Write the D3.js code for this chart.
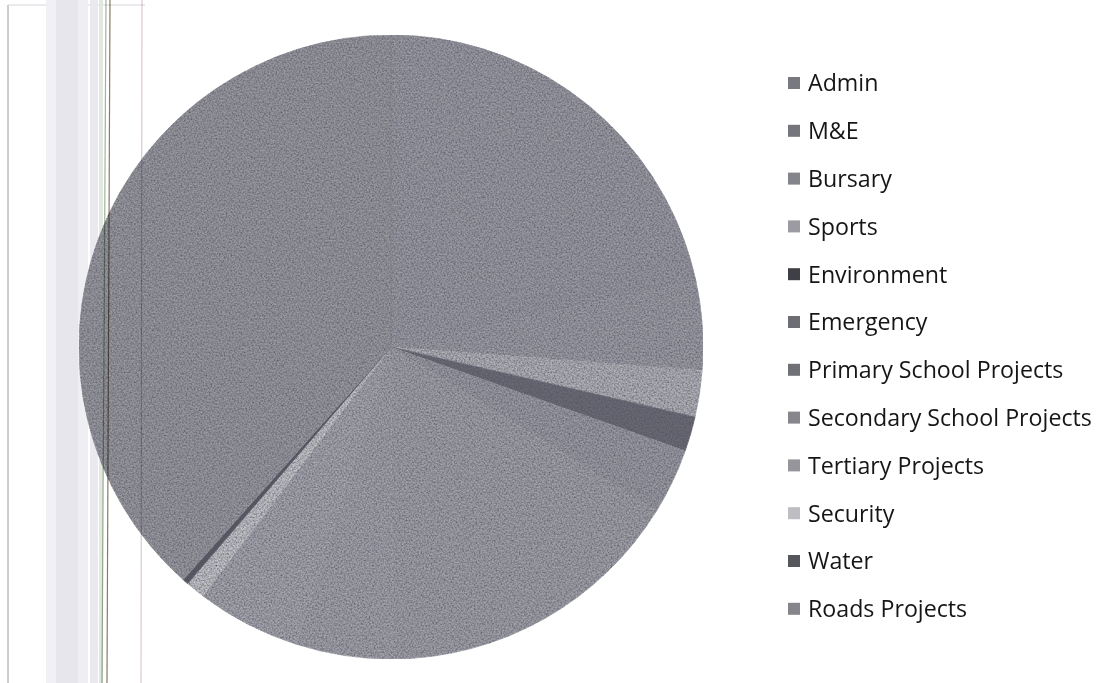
<!DOCTYPE html>
<html>
<head>
<meta charset="utf-8">
<script src="https://cdn.jsdelivr.net/npm/d3@7/dist/d3.min.js"></script>
<style>
  html, body { margin: 0; padding: 0; background: #ffffff; }
  svg { display: block; }
</style>
</head>
<body>
<svg id="chart" width="1114" height="683"></svg>
<script>
// Budget allocation by category (percent of total)
const categories = [
  "Admin", "M&E", "Bursary", "Sports", "Environment", "Emergency",
  "Primary School Projects", "Secondary School Projects", "Tertiary Projects",
  "Security", "Water", "Roads Projects"
];
const shares = [19.4, 2.2, 4.6, 2.4, 1.8, 3.4, 16.1, 5.0, 5.4, 1.0, 0.3, 38.4];

// Slice and legend swatch tones (greyscale print)
const sliceColors = [
  "#9a9aa3", "#9999a2", "#9b9ba4", "#b1b1b8", "#6a6a74", "#9a9aa3",
  "#a0a0a8", "#a2a2aa", "#a5a5ad", "#c2c2c8", "#5a5a63", "#98989f"
];
const swatchColors = [
  "#78787f", "#75757c", "#84848b", "#9b9ba1", "#3f3f46", "#6d6d74",
  "#707077", "#86868c", "#95959b", "#bdbdc2", "#56565d", "#85858b"
];

const svg = d3.select("#chart");
const W = 1114, H = 683;

// speckled print texture
const defs = svg.append("defs");
const f = defs.append("filter").attr("id", "grain").attr("x", 0).attr("y", 0).attr("width", 1).attr("height", 1);
f.append("feTurbulence").attr("type", "fractalNoise").attr("baseFrequency", 0.6).attr("numOctaves", 2).attr("seed", 7).attr("result", "noise");
f.append("feColorMatrix").attr("in", "noise").attr("type", "matrix")
  .attr("values", "0 0 0 0 0.08  0 0 0 0 0.08  0 0 0 0 0.12  1.5 0 0 0 -0.45").attr("result", "dots");
f.append("feComposite").attr("in", "dots").attr("in2", "SourceGraphic").attr("operator", "in").attr("result", "dotsIn");
f.append("feMerge").selectAll("feMergeNode").data(["SourceGraphic", "dotsIn"]).join("feMergeNode").attr("in", d => d);

// page edge marks on the left
const edge = svg.append("g").attr("class", "edge");
edge.append("line").attr("x1", 8).attr("x2", 8).attr("y1", 5).attr("y2", 683).attr("stroke", "#9a9aa0").attr("stroke-width", 1);
edge.append("line").attr("x1", 8).attr("x2", 145).attr("y1", 5).attr("y2", 5).attr("stroke", "#d6d6da").attr("stroke-width", 1);
const bands = [
  {x: 46, w: 10, c: "#f0f0f5"}, {x: 56, w: 22, c: "#e6e6ec"}, {x: 78, w: 10, c: "#eeeef3"},
  {x: 90, w: 8, c: "#e9e9ef"}, {x: 99, w: 4, c: "#e2e8e0"}
];
bands.forEach(b => edge.append("rect").attr("x", b.x).attr("y", 0).attr("width", b.w).attr("height", H).attr("fill", b.c));

// pie
const cx = 391, cy = 347, R = 312;
const pie = d3.pie().sort(null).value(d => d.v);
const arc = d3.arc().innerRadius(0).outerRadius(R);
const data = categories.map((c, i) => ({c, v: shares[i], i}));

const gPie = svg.append("g").attr("transform", `translate(${cx},${cy})`).attr("filter", "url(#grain)");
gPie.selectAll("path")
  .data(pie(data))
  .join("path")
  .attr("d", arc)
  .attr("fill", d => sliceColors[d.data.i])
  .attr("stroke", d => sliceColors[d.data.i])
  .attr("stroke-width", 0.6);

// faint seam along the first slice edge
const firstStart = pie(data)[0].startAngle;
svg.append("line")
  .attr("x1", cx).attr("y1", cy)
  .attr("x2", cx + R * Math.sin(firstStart)).attr("y2", cy - R * Math.cos(firstStart))
  .attr("stroke", "#7c7c86").attr("stroke-width", 1.5).attr("opacity", 0.4);

// scanner streaks running over the page
const streaks = svg.append("g").style("mix-blend-mode", "multiply");
streaks.append("line").attr("x1", 106).attr("x2", 102).attr("y1", 0).attr("y2", 683).attr("stroke", "#9fb59b").attr("stroke-width", 1.2);
streaks.append("line").attr("x1", 110).attr("x2", 107).attr("y1", 0).attr("y2", 683).attr("stroke", "#8a7a66").attr("stroke-width", 1.2);
streaks.append("line").attr("x1", 142).attr("x2", 141).attr("y1", 0).attr("y2", 683).attr("stroke", "#d2bccc").attr("stroke-width", 1);

// legend
const legend = svg.append("g").attr("transform", "translate(788,83)");
const rowH = 47.8;
const rows = legend.selectAll("g.row")
  .data(categories)
  .join("g")
  .attr("class", "row")
  .attr("transform", (d, i) => `translate(0,${i * rowH})`);
rows.append("rect")
  .attr("x", 0).attr("y", -6).attr("width", 12).attr("height", 12)
  .attr("fill", (d, i) => swatchColors[i]);
const labels = rows.append("text")
  .attr("x", 20).attr("y", 0).attr("dy", "0.36em")
  .attr("fill", "#161616")
  .style("font-family", "'Open Sans', 'Noto Sans', sans-serif")
  .style("font-size", "21px")
  .text(d => d);

// fit the longest label to its printed width
const longest = labels.nodes().reduce((m, n) => Math.max(m, n.getComputedTextLength()), 0);
const target = 284;
const fs = 21 * target / longest;
labels.style("font-size", fs.toFixed(2) + "px");
</script>
</body>
</html>
